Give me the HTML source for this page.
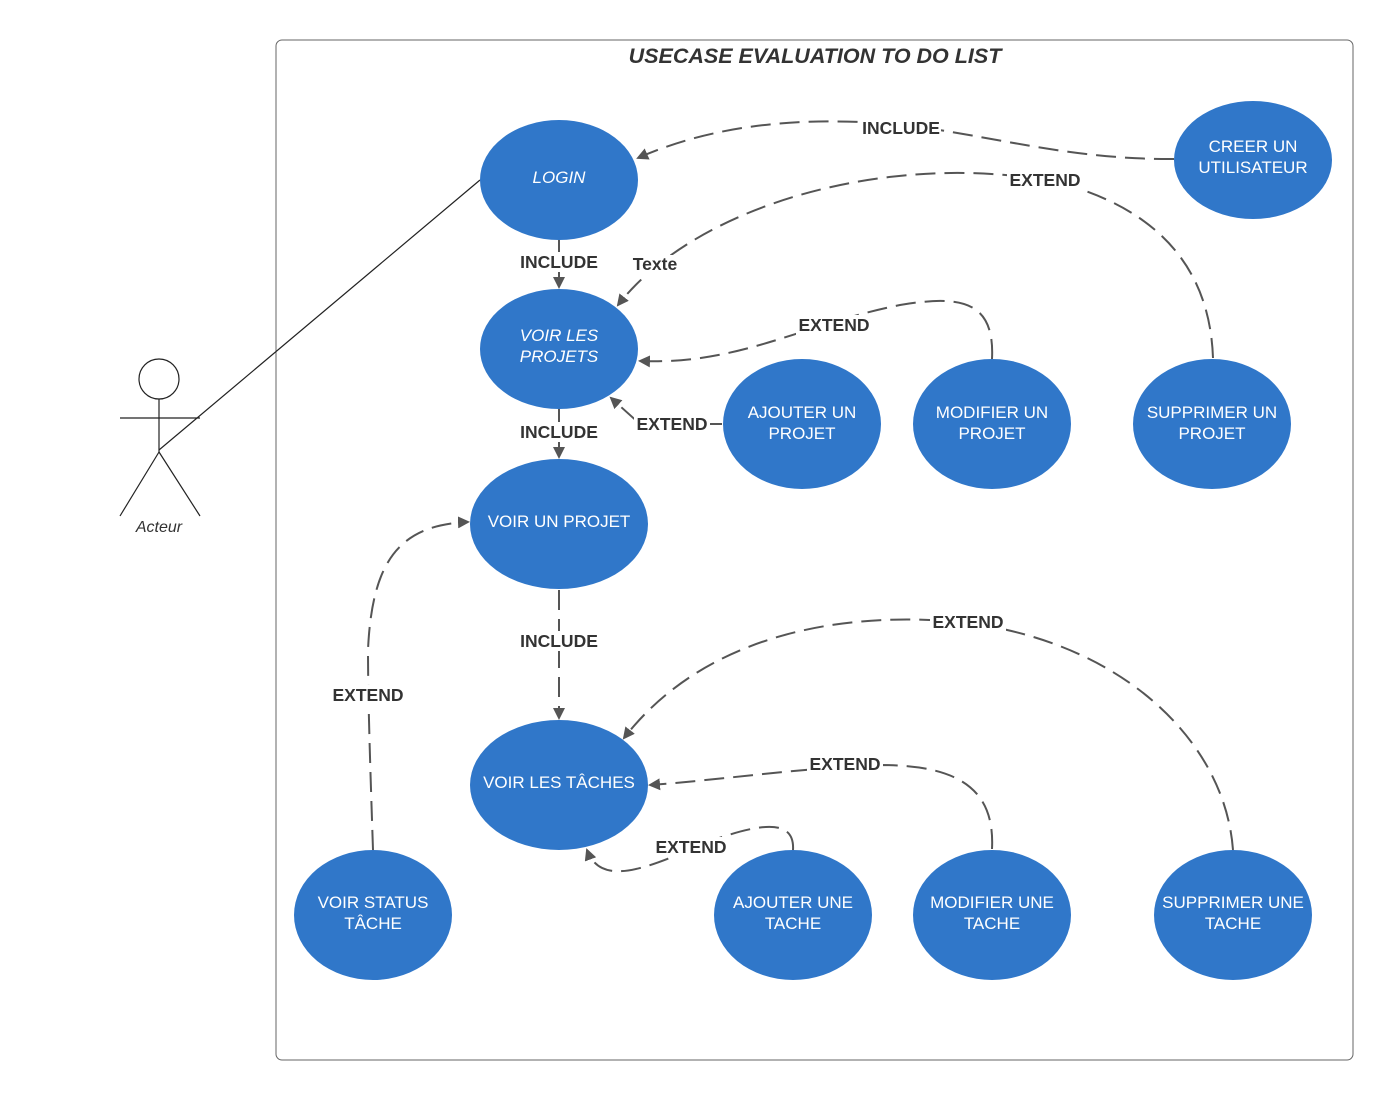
<!DOCTYPE html>
<html><head><meta charset="utf-8"><style>
html,body{margin:0;padding:0;background:#fff}
svg{display:block}
.u{font-family:"Liberation Sans",sans-serif;font-size:17px;fill:#fff;text-anchor:middle}
.l{font-family:"Liberation Sans",sans-serif;font-size:17.5px;font-weight:bold;fill:#333;text-anchor:middle}
.c{fill:none;stroke:#555;stroke-width:2;stroke-dasharray:20 9}
.lb{fill:#fff}
</style></head><body>
<svg width="1394" height="1100" viewBox="0 0 1394 1100">
<defs><marker id="a" markerWidth="12" markerHeight="12" refX="10" refY="6" orient="auto" markerUnits="userSpaceOnUse"><path d="M0,0 L12,6 L0,12 z" fill="#555"/></marker></defs>
<rect x="276" y="40" width="1077" height="1020" rx="6" fill="none" stroke="#666" stroke-width="1"/>
<text x="815" y="63" style="font-family:'Liberation Sans',sans-serif;font-size:21.5px;font-weight:bold;font-style:italic;fill:#333" text-anchor="middle">USECASE EVALUATION TO DO LIST</text>
<!-- actor -->
<circle cx="159" cy="379" r="20" fill="#fff" stroke="#222" stroke-width="1.2"/>
<line x1="159" y1="399" x2="159" y2="452" stroke="#222" stroke-width="1.2"/>
<line x1="120" y1="418" x2="200" y2="418" stroke="#222" stroke-width="1.2"/>
<line x1="159" y1="452" x2="120" y2="516" stroke="#222" stroke-width="1.2"/>
<line x1="159" y1="452" x2="200" y2="516" stroke="#222" stroke-width="1.2"/>
<text x="159" y="532" style="font-family:'Liberation Sans',sans-serif;font-size:16px;font-style:italic;fill:#333" text-anchor="middle">Acteur</text>
<line x1="159" y1="450" x2="480" y2="180" stroke="#222" stroke-width="1.2"/>
<!-- connectors -->
<path class="c" d="M1174,159 C1050,160 960,125 860,122 C760,118 690,135 638,158" marker-end="url(#a)"/>
<path class="c" d="M559,240 L559,287" marker-end="url(#a)"/>
<path class="c" d="M559,409 L559,457" marker-end="url(#a)"/>
<path class="c" d="M559,590 L559,718" marker-end="url(#a)"/>
<path class="c" d="M1213,358 C1210,270 1160,210 1060,183 C900,150 700,200 618,305" marker-end="url(#a)"/>
<path class="c" d="M992,359 C995,300 960,295 900,305 C800,325 740,365 640,361" marker-end="url(#a)"/>
<path class="c" d="M722,424 L640,424 L611,398" marker-end="url(#a)"/>
<path class="c" d="M373,850 C370,760 368,700 368,650 C372,560 400,525 468,522" marker-end="url(#a)"/>
<path class="c" d="M1233,850 C1225,740 1120,640 960,622 C830,610 700,640 624,738" marker-end="url(#a)"/>
<path class="c" d="M992,849 C995,790 960,765 880,765 C800,768 720,780 650,785" marker-end="url(#a)"/>
<path class="c" d="M793,850 C795,818 760,822 700,845 C640,872 600,885 587,850" marker-end="url(#a)"/>
<!-- labels -->
<rect class="lb" x="861" y="118" width="80" height="20"/><text class="l" x="901" y="134">INCLUDE</text>
<rect class="lb" x="1007" y="170" width="76" height="20"/><text class="l" x="1045" y="186">EXTEND</text>
<rect class="lb" x="518" y="252" width="82" height="20"/><text class="l" x="559" y="268">INCLUDE</text>
<rect class="lb" x="631" y="255" width="48" height="20"/><text class="l" x="655" y="270">Texte</text>
<rect class="lb" x="796" y="315" width="76" height="20"/><text class="l" x="834" y="331">EXTEND</text>
<rect class="lb" x="634" y="414" width="76" height="20"/><text class="l" x="672" y="430">EXTEND</text>
<rect class="lb" x="518" y="422" width="82" height="20"/><text class="l" x="559" y="438">INCLUDE</text>
<rect class="lb" x="518" y="631" width="82" height="20"/><text class="l" x="559" y="647">INCLUDE</text>
<rect class="lb" x="330" y="685" width="76" height="20"/><text class="l" x="368" y="701">EXTEND</text>
<rect class="lb" x="930" y="612" width="76" height="20"/><text class="l" x="968" y="628">EXTEND</text>
<rect class="lb" x="807" y="754" width="76" height="20"/><text class="l" x="845" y="770">EXTEND</text>
<rect class="lb" x="653" y="837" width="76" height="20"/><text class="l" x="691" y="853">EXTEND</text>
<!-- ellipses -->
<g fill="#3077c9">
<ellipse cx="559" cy="180" rx="79" ry="60"/>
<ellipse cx="559" cy="349" rx="79" ry="60"/>
<ellipse cx="1253" cy="160" rx="79" ry="59"/>
<ellipse cx="802" cy="424" rx="79" ry="65"/>
<ellipse cx="992" cy="424" rx="79" ry="65"/>
<ellipse cx="1212" cy="424" rx="79" ry="65"/>
<ellipse cx="559" cy="524" rx="89" ry="65"/>
<ellipse cx="559" cy="785" rx="89" ry="65"/>
<ellipse cx="373" cy="915" rx="79" ry="65"/>
<ellipse cx="793" cy="915" rx="79" ry="65"/>
<ellipse cx="992" cy="915" rx="79" ry="65"/>
<ellipse cx="1233" cy="915" rx="79" ry="65"/>
</g>
<text class="u" x="559" y="183" font-style="italic">LOGIN</text>
<text class="u" x="559" y="341" font-style="italic">VOIR LES</text>
<text class="u" x="559" y="362" font-style="italic">PROJETS</text>
<text class="u" x="1253" y="152">CREER UN</text>
<text class="u" x="1253" y="173">UTILISATEUR</text>
<text class="u" x="802" y="418">AJOUTER UN</text>
<text class="u" x="802" y="439">PROJET</text>
<text class="u" x="992" y="418">MODIFIER UN</text>
<text class="u" x="992" y="439">PROJET</text>
<text class="u" x="1212" y="418">SUPPRIMER UN</text>
<text class="u" x="1212" y="439">PROJET</text>
<text class="u" x="559" y="527">VOIR UN PROJET</text>
<text class="u" x="559" y="788">VOIR LES TÂCHES</text>
<text class="u" x="373" y="908">VOIR STATUS</text>
<text class="u" x="373" y="929">TÂCHE</text>
<text class="u" x="793" y="908">AJOUTER UNE</text>
<text class="u" x="793" y="929">TACHE</text>
<text class="u" x="992" y="908">MODIFIER UNE</text>
<text class="u" x="992" y="929">TACHE</text>
<text class="u" x="1233" y="908">SUPPRIMER UNE</text>
<text class="u" x="1233" y="929">TACHE</text>
</svg>
</body></html>
